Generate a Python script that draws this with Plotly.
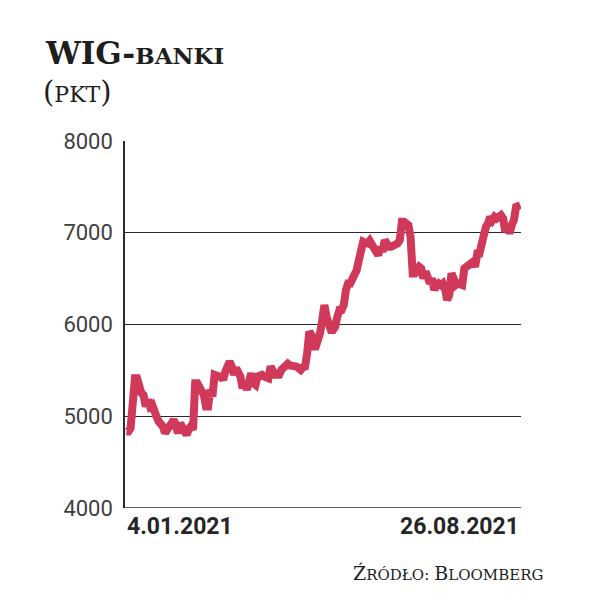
import plotly.graph_objects as go

# WIG-banki index values (pkt), daily sessions from 4.01.2021 to 26.08.2021
values = [
    4834, 4834, 4871, 5324, 5415, 5415, 5288, 5252, 5233, 5107, 5179, 5107, 5125, 5034, 4998,
    4943, 4925, 4889, 4816, 4853, 4871, 4943, 4961, 4907, 4816, 4925, 4889, 4853, 4798, 4853,
    4889, 4853, 5360, 5360, 5306, 5288, 5233, 5107, 5107, 5288, 5215, 5451, 5433, 5433, 5433,
    5397, 5487, 5542, 5596, 5542, 5451, 5524, 5487, 5433, 5306, 5360, 5288, 5360, 5469, 5360,
    5342, 5433, 5451, 5451, 5433, 5433, 5415, 5542, 5469, 5451, 5451, 5451, 5505, 5524, 5560,
    5571, 5553, 5553, 5542, 5542, 5524, 5505, 5535, 5542, 5687, 5922, 5886, 5760, 5760, 5832,
    5904, 6049, 6212, 6085, 5958, 5940, 5940, 5976, 6085, 6158, 6158, 6212, 6376, 6448, 6448,
    6484, 6521, 6593, 6702, 6847, 6901, 6890, 6883, 6912, 6876, 6829, 6793, 6756, 6847, 6793,
    6919, 6865, 6847, 6847, 6854, 6865, 6883, 6919, 7119, 7119, 7083, 7083, 6956, 6557, 6557,
    6611, 6629, 6611, 6502, 6575, 6502, 6448, 6502, 6376, 6430, 6448, 6430, 6448, 6394, 6267,
    6321, 6557, 6502, 6430, 6448, 6448, 6430, 6611, 6629, 6648, 6666, 6684, 6629, 6775, 6775,
    6865, 7028, 7065, 7101, 7173, 7137, 7173, 7155, 7173, 7191, 7155, 7010, 7083, 6992, 7083,
    7137, 7282, 7300, 7300,
]
sessions = list(range(len(values)))

y_ticks = [4000, 5000, 6000, 7000, 8000]
y_tick_labels = ["4000", "5000", "6000", "7000", "8000"]
date_labels = ["4.01.2021", "26.08.2021"]

title_main = "WIG"
title_caps = "BANKI"
unit_text = "PKT"
source_label = "Źródło"
source_name = "Bloomberg"

LINE_COLOR = "#d1395a"
AXIS_COLOR = "#2b2b2b"
TEXT_COLOR = "#262626"

# the page body has an 8px default margin: the figure starts at (8, 8) in the window
OFF = 8
W, H = 595 - OFF, 593 - OFF
L, R, T, B = 125 - OFF, W - (521 - OFF), 141 - OFF, H - (508 - OFF)

fig = go.Figure()
fig.add_trace(go.Scatter(
    x=sessions, y=values, mode="lines",
    line=dict(color=LINE_COLOR, width=8, shape="linear"),
    hoverinfo="skip", showlegend=False,
))

fig.update_layout(
    width=W, height=H,
    margin=dict(l=L, r=R, t=T, b=B),
    paper_bgcolor="white", plot_bgcolor="white",
    xaxis=dict(
        range=[-0.6, len(values) - 1 + 0.3],
        showgrid=False, zeroline=False, showticklabels=False, ticks="",
        showline=False,
    ),
    yaxis=dict(
        range=[4000, 8000],
        tickvals=y_ticks, ticktext=y_tick_labels,
        showgrid=True, gridcolor=AXIS_COLOR, gridwidth=1.3,
        zeroline=False, ticks="", ticklabelstandoff=6,
        showline=True, linecolor=AXIS_COLOR, linewidth=1.5, mirror=False,
        tickfont=dict(family="Roboto", size=22, color="#404040"),
    ),
    font=dict(family="Roboto", color=TEXT_COLOR),
)

# bottom axis line at 4000
fig.add_shape(type="line", xref="paper", yref="y", x0=0, x1=1, y0=4000, y1=4000,
              line=dict(color=AXIS_COLOR, width=1.5))

# date labels under the axis
fig.add_annotation(x=0, xref="paper", y=0, yref="paper", yshift=-3,
                   text="<b>" + date_labels[0] + "</b>", showarrow=False,
                   xanchor="left", yanchor="top",
                   font=dict(family="Roboto", size=23, color=TEXT_COLOR))
fig.add_annotation(x=1, xref="paper", y=0, yref="paper", yshift=-3,
                   text="<b>" + date_labels[1] + "</b>", showarrow=False,
                   xanchor="right", yanchor="top",
                   font=dict(family="Roboto", size=23, color=TEXT_COLOR))

# title with small caps (window pixel positions, converted below)
fig.add_annotation(
    x=43, y=73,
    text=f"<b><span style='font-size:31px'>{title_main}-</span>"
         f"<span style='font-size:23px'>{title_caps}</span></b>",
    showarrow=False, xanchor="left", yanchor="bottom",
    font=dict(family="DejaVu Serif", size=31, color="#1e1e1e"),
)
fig.add_annotation(
    x=41, y=111,
    text=f"<span style='font-size:29px'>(</span>"
         f"<span style='font-size:22px'>{unit_text}</span>"
         f"<span style='font-size:29px'>)</span>",
    showarrow=False, xanchor="left", yanchor="bottom",
    font=dict(family="DejaVu Serif", size=22, color="#1e1e1e"),
)

# source note
fig.add_annotation(
    x=545, y=586,
    text=f"<span style='font-size:19px'>{source_label[0]}</span>"
         f"<span style='font-size:15px'>{source_label[1:].upper()}:</span> "
         f"<span style='font-size:19px'>{source_name[0]}</span>"
         f"<span style='font-size:15px'>{source_name[1:].upper()}</span>",
    showarrow=False, xanchor="right", yanchor="bottom",
    font=dict(family="DejaVu Serif", size=16, color="#1e1e1e"),
)

# convert window pixel positions for title/source annotations into paper coordinates
plot_w = W - L - R
plot_h = H - T - B
for ann in fig.layout.annotations[2:]:
    fx = ann.x - OFF
    fy = ann.y - OFF
    ann.xref = "paper"
    ann.yref = "paper"
    ann.x = (fx - L) / plot_w
    ann.y = ((H - fy) - B) / plot_h

fig.write_html("out.html")
